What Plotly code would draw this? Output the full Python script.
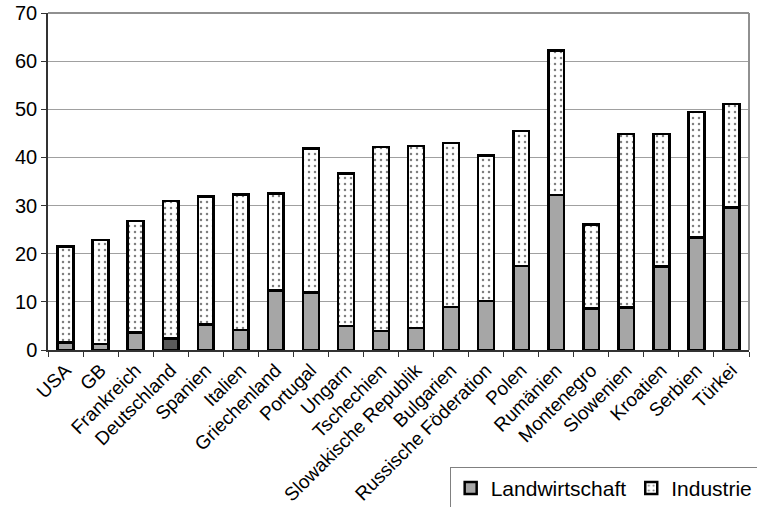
import plotly.graph_objects as go

countries = ["USA", "GB", "Frankreich", "Deutschland", "Spanien", "Italien",
             "Griechenland", "Portugal", "Ungarn", "Tschechien",
             "Slowakische Republik", "Bulgarien", "Russische Föderation",
             "Polen", "Rumänien", "Montenegro", "Slowenien", "Kroatien",
             "Serbien", "Türkei"]
landwirtschaft = [1.6, 1.2, 3.6, 2.4, 5.3, 4.2, 12.4, 11.9, 5.0, 3.9,
                  4.6, 8.9, 10.2, 17.5, 32.2, 8.6, 8.8, 17.3, 23.4, 29.6]
gesamt = [21.5, 22.8, 26.8, 30.9, 31.9, 32.3, 32.5, 41.9, 36.7, 42.2,
          42.4, 43.0, 40.4, 45.5, 62.2, 26.1, 44.9, 44.9, 49.4, 51.1]
industrie = [round(g - l, 1) for g, l in zip(gesamt, landwirtschaft)]

agri_colors = ["#5a5a5a" if c == "Deutschland" else "#a6a6a6" for c in countries]

font = "Liberation Sans, Arial, sans-serif"

fig = go.Figure()
fig.add_trace(go.Bar(
    x=countries, y=landwirtschaft, name="Landwirtschaft",
    marker=dict(color=agri_colors, line=dict(color="black", width=2.5)),
))
fig.add_trace(go.Bar(
    x=countries, y=industrie, name="Industrie",
    marker=dict(color="white", line=dict(color="black", width=2.5),
                pattern=dict(shape=".", fgcolor="black", bgcolor="white",
                             size=6, solidity=0.14)),
))

fig.update_layout(
    barmode="stack",
    bargap=0.55,
    width=757, height=507,
    margin=dict(l=48, r=8, t=13, b=157, autoexpand=False),
    paper_bgcolor="white", plot_bgcolor="white",
    font=dict(family=font, size=19, color="black"),
    showlegend=True,
    legend=dict(orientation="h", x=0.573, y=-0.347, xanchor="left", yanchor="top",
                traceorder="normal", bordercolor="#808080", borderwidth=1,
                bgcolor="white", font=dict(size=21, family=font),
                itemwidth=30, tracegroupgap=0),
)
fig.update_yaxes(range=[0, 70], dtick=10, showgrid=True, gridcolor="#a0a0a0",
                 gridwidth=1, showline=True, linecolor="#333333", linewidth=1.5,
                 ticks="outside", ticklen=5, tickcolor="#333333",
                 tickfont=dict(size=20), zeroline=False, mirror=False,
                 ticklabeloverflow="allow")
fig.update_xaxes(showline=True, linecolor="#333333", linewidth=1.5,
                 ticks="outside", ticklen=5, tickson="boundaries",
                 tickcolor="#333333", tickangle=-45, tickfont=dict(size=19),
                 ticklabeloverflow="allow")

# grey frame on top and right of plot area
fig.add_shape(type="line", xref="paper", yref="paper", x0=0, x1=1, y0=1, y1=1,
              line=dict(color="#909090", width=2))
fig.add_shape(type="line", xref="paper", yref="paper", x0=1, x1=1, y0=0, y1=1,
              line=dict(color="#909090", width=2))

fig.write_html("out.html",
               config={"displayModeBar": False},
               post_script="document.body.style.margin='0';document.body.style.overflow='hidden';")
